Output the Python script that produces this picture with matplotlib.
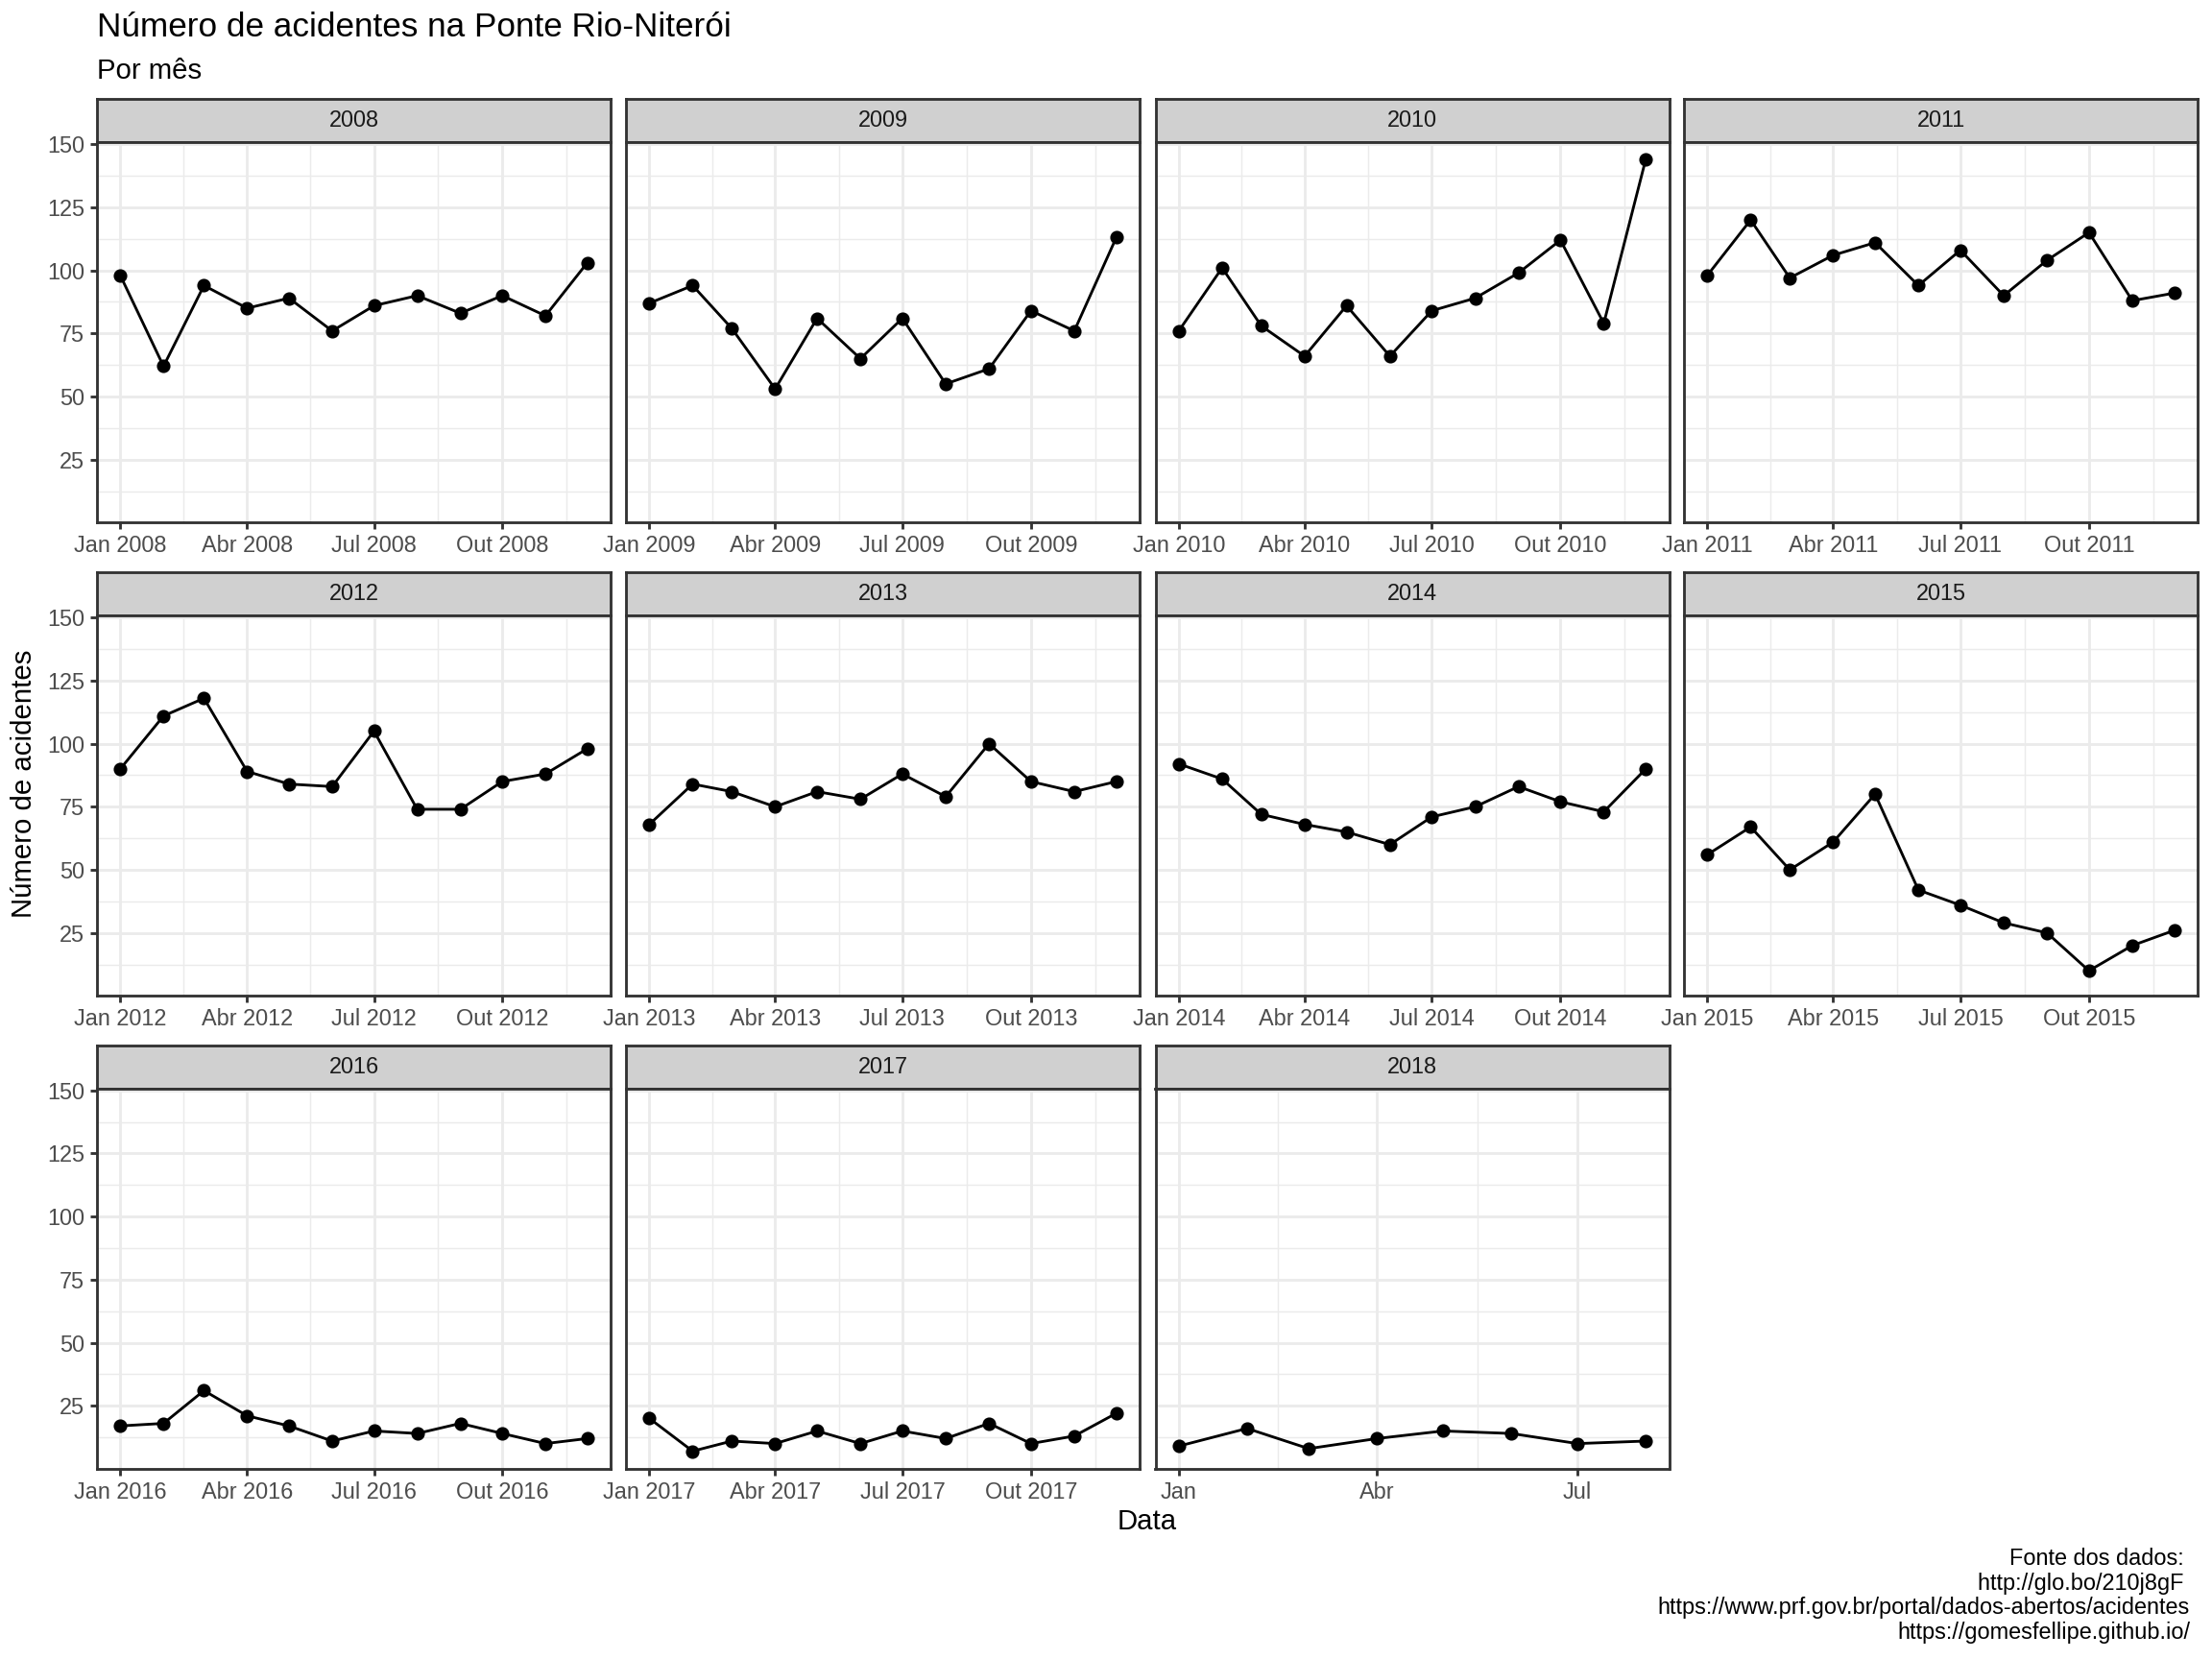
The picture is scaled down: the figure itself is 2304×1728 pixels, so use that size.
import datetime as dt
import matplotlib.pyplot as plt
import matplotlib.dates as mdates

plt.rcParams['font.family'] = ['Liberation Sans', 'DejaVu Sans']

# monthly accident counts per year
years = [2008, 2009, 2010, 2011, 2012, 2013, 2014, 2015, 2016, 2017, 2018]
acid_2008 = [98, 62, 94, 85, 89, 76, 86, 90, 83, 90, 82, 103]
acid_2009 = [87, 94, 77, 53, 81, 65, 81, 55, 61, 84, 76, 113]
acid_2010 = [76, 101, 78, 66, 86, 66, 84, 89, 99, 112, 79, 144]
acid_2011 = [98, 120, 97, 106, 111, 94, 108, 90, 104, 115, 88, 91]
acid_2012 = [90, 111, 118, 89, 84, 83, 105, 74, 74, 85, 88, 98]
acid_2013 = [68, 84, 81, 75, 81, 78, 88, 79, 100, 85, 81, 85]
acid_2014 = [92, 86, 72, 68, 65, 60, 71, 75, 83, 77, 73, 90]
acid_2015 = [56, 67, 50, 61, 80, 42, 36, 29, 25, 10, 20, 26]
acid_2016 = [17, 18, 31, 21, 17, 11, 15, 14, 18, 14, 10, 12]
acid_2017 = [20, 7, 11, 10, 15, 10, 15, 12, 18, 10, 13, 22]
acid_2018 = [9, 16, 8, 12, 15, 14, 10, 11]
series = [acid_2008, acid_2009, acid_2010, acid_2011, acid_2012, acid_2013,
          acid_2014, acid_2015, acid_2016, acid_2017, acid_2018]

month_names = ['Jan', 'Fev', 'Mar', 'Abr', 'Mai', 'Jun',
               'Jul', 'Ago', 'Set', 'Out', 'Nov', 'Dez']
tick_months = [1, 4, 7, 10]
short_label_years = [2018]
y_ticks = [25, 50, 75, 100, 125, 150]
y_minor = [12.5, 37.5, 62.5, 87.5, 112.5, 137.5]

W, H = 2304, 1728
fig = plt.figure(figsize=(12, 9), dpi=192)

col_left = [101, 652, 1203.5, 1754]
panel_w = 535
strip_h = 45
panel_h = 396
row_top = [103, 596, 1088.5]

grey20 = '#333333'
lw = 1.07

all_vals = [v for s in series for v in s]
ypad = 0.05 * (max(all_vals) - min(all_vals))
ylim = (min(all_vals) - ypad, max(all_vals) + ypad)

for i, (year, vals) in enumerate(zip(years, series)):
    r, c = divmod(i, 4)
    left = col_left[c] / W
    top = row_top[r]

    # strip
    sax = fig.add_axes([left, 1 - (top + strip_h) / H, panel_w / W, strip_h / H])
    sax.set_facecolor('#D0D0D0')
    sax.set_xticks([])
    sax.set_yticks([])
    for sp in sax.spines.values():
        sp.set_color(grey20)
        sp.set_linewidth(lw)
    sax.text(0.5, 0.5, str(year), ha='center', va='center',
             fontsize=8.8, color='#1A1A1A', transform=sax.transAxes)

    # panel
    ax = fig.add_axes([left, 1 - (top + strip_h + panel_h) / H, panel_w / W, panel_h / H])
    dates = [mdates.date2num(dt.date(year, m + 1, 1)) for m in range(len(vals))]
    ax.plot(dates, vals, color='black', lw=lw, zorder=3)
    ax.plot(dates, vals, 'o', color='black', ms=4.3, zorder=4)

    xpad = 0.05 * (dates[-1] - dates[0])
    x0, x1 = dates[0] - xpad, dates[-1] + xpad
    ax.set_xlim(x0, x1)
    ax.set_ylim(*ylim)

    ext = [dt.date(year - 1, 10, 1)] + [dt.date(year, m, 1) for m in tick_months] + [dt.date(year + 1, 1, 1)]
    ext = [mdates.date2num(d) for d in ext]
    majors = [d for d in ext if x0 <= d <= x1]
    minors = [(a + b) / 2 for a, b in zip(ext[:-1], ext[1:])]
    minors = [d for d in minors if x0 <= d <= x1]
    labels = []
    for d in majors:
        dd = mdates.num2date(d)
        name = month_names[dd.month - 1]
        labels.append(name if year in short_label_years else f'{name} {year}')
    ax.set_xticks(majors)
    ax.set_xticklabels(labels)
    ax.set_xticks(minors, minor=True)
    ax.set_yticks(y_ticks)
    ax.set_yticks(y_minor, minor=True)

    ax.grid(which='major', color='#EBEBEB', lw=lw)
    ax.grid(which='minor', color='#EBEBEB', lw=lw / 2)
    ax.set_axisbelow(True)
    ax.tick_params(which='major', length=2.75, width=lw, color=grey20,
                   labelsize=8.8, labelcolor='#4D4D4D', pad=2.2)
    ax.tick_params(which='minor', length=0)
    if c != 0:
        ax.tick_params(axis='y', left=False, labelleft=False)
    for sp in ax.spines.values():
        sp.set_color(grey20)
        sp.set_linewidth(lw)

fig.text(101 / W, 1 - 28 / H, 'Número de acidentes na Ponte Rio-Niterói',
         fontsize=13.2, va='center', ha='left')
fig.text(101 / W, 1 - 73.5 / H, 'Por mês', fontsize=11, va='center', ha='left')
fig.text(25 / W, 1 - 816 / H, 'Número de acidentes', fontsize=11,
         rotation=90, va='center', ha='center')
fig.text(1195 / W, 1 - 1585 / H, 'Data', fontsize=11, va='center', ha='center')
fig.text(2281 / W, 1 - 1662 / H,
         'Fonte dos dados: \nhttp://glo.bo/210j8gF \n'
         'https://www.prf.gov.br/portal/dados-abertos/acidentes\n'
         'https://gomesfellipe.github.io/',
         fontsize=8.8, ha='right', va='center', multialignment='right', linespacing=1.13)

fig.savefig('out.png', dpi=192)
